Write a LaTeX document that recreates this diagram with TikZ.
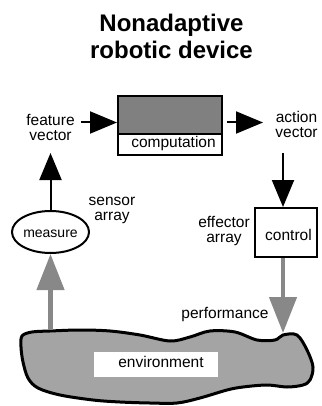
\documentclass[tikz,border=0pt]{standalone}
\usepackage{fontspec}
\setmainfont{Liberation Sans}
\usetikzlibrary{arrows.meta,shapes.geometric}
\definecolor{boxgray}{HTML}{808080}
\definecolor{arrowgray}{HTML}{888888}
\definecolor{landgray}{HTML}{A4A4A4}
\tikzset{
  lbl/.style={inner sep=0pt, align=center, font=\fontsize{15.5}{15}\selectfont},
  blackarrow/.style={line width=2pt, -{Triangle[length=27pt,width=22pt]}},
  grayarrow/.style={draw=arrowgray, line width=4.5pt, -{Triangle[length=36pt,width=27pt]}},
  unitbox/.style={draw, line width=2pt, inner sep=0pt},
}
\begin{document}
\begin{tikzpicture}[x=1pt,y=-1pt]
\useasboundingbox (0,0) rectangle (321,406);

% title
\node[inner sep=0pt, align=center, font=\bfseries\fontsize{24}{27}\selectfont] (title) at (171.5,36.6) {Nonadaptive\\robotic device};

% computation unit: shaded upper part, labelled lower part
\fill[boxgray] (118,96) rectangle (222,134);
\node[unitbox, minimum width=104pt, minimum height=59pt] (comp) at (170,125.5) {};
\draw[line width=2pt] (comp.west |- 0,134) -- (comp.east |- 0,134);
\node[lbl, anchor=base] (comptext) at (173.5,147.5) {computation};

% control unit
\node[unitbox, minimum width=62pt, minimum height=49pt] (ctrl) at (286,232.5) {};
\node[lbl, anchor=base] (ctrltext) at (288.5,240) {control};

% sensor
\node[draw, ellipse, line width=2pt, minimum width=71pt, minimum height=42pt, inner sep=0pt,
      text height=10.5pt, text depth=0pt, font=\fontsize{14}{14}\selectfont] (measure) at (50.5,232) {measure};

% labels
\node[lbl] (fv) at (50.5,127) {feature\\vector};
\node[lbl] (av) at (296.5,124.5) {action\\vector};
\node[lbl] (sa) at (112,210) {sensor\\array};
\node[lbl] (ea) at (224,231) {effector\\array};
\node[lbl, anchor=base] (perf) at (225,318) {performance};

% environment
\draw[line width=3pt, fill=landgray] plot[smooth cycle, tension=0.55] coordinates {
  (22,336) (32,332) (50,331) (80,330) (110,331) (140,335) (170,341) (190,337)
  (210,331) (235,332) (257,340) (275,340) (283,335) (297,335) (307,350) (313,367)
  (310,380) (303,385) (287,387) (267,385) (243,387) (227,390) (200,398) (177,403)
  (150,403) (120,402) (93,400) (60,395) (38,388) (28,378) (23,362) (21,347)};
\node[fill=white, minimum width=124pt, minimum height=25pt, inner sep=0pt] (envbox) at (156,364.5) {};
\node[lbl, anchor=base] (env) at (161,367) {environment};

% signal flow
\coordinate (fvStart) at (81,122.5);
\coordinate (avStart) at (227,122.5);
\coordinate (avEnd) at (263,122.5);
\coordinate (avDrop) at (283,153);
\coordinate (sensorUp) at (50.5,153);
\coordinate (envTop) at (50.5,330);
\coordinate (envHit) at (283,333);

\draw[blackarrow] (fvStart) -- (fvStart -| comp.west);
\draw[blackarrow] (avStart) -- (avEnd);
\draw[blackarrow] (avDrop) -- (avDrop |- ctrl.north);
\draw[blackarrow] (measure.north) -- (sensorUp);
\draw[grayarrow] (avDrop |- ctrl.south) -- (envHit);
\draw[grayarrow] (envTop) -- (measure.south);
\end{tikzpicture}
\end{document}
